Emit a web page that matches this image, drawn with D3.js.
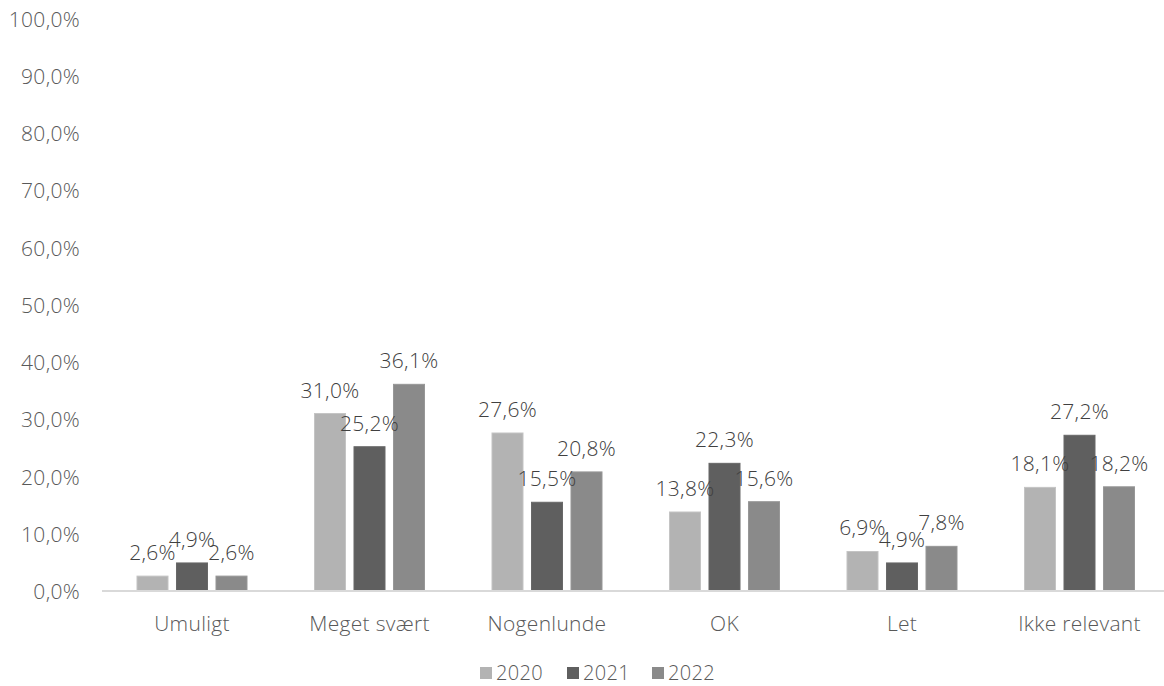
<!DOCTYPE html>
<html><head><meta charset="utf-8">
<script src="https://cdn.jsdelivr.net/npm/d3@7"></script>
<style>
body{margin:0;background:#fff;}
text{font-family:"Open Sans",sans-serif;font-weight:300;}
</style></head>
<body><svg id="c" width="1164" height="686"></svg>
<script>
const categories = ["Umuligt","Meget svært","Nogenlunde","OK","Let","Ikke relevant"];
const series = ["2020","2021","2022"];
const values2020 = [2.6,31.0,27.6,13.8,6.9,18.1];
const values2021 = [4.9,25.2,15.5,22.3,4.9,27.2];
const values2022 = [2.6,36.1,20.8,15.6,7.8,18.2];
const yTicks = [0,10,20,30,40,50,60,70,80,90,100];
const colors = ["#b3b3b3","#5f5f5f","#8a8a8a"];
const allValues = [values2020, values2021, values2022];

const FS = 21;
const svg = d3.select("#c");
const x0 = d3.scaleBand().domain(categories).range([102, 1167]).padding(0);
const x1 = d3.scaleBand().domain(series).range([35, 145]).paddingInner(0.215).paddingOuter(0);
const y = d3.scaleLinear().domain([0,100]).range([591, 18.5]);
const fmt = v => d3.format(".1f")(v).replace(".", ",") + "%";

// y tick labels
svg.append("g").selectAll("text").data(yTicks).join("text")
  .attr("x", 80).attr("y", d => y(d)).attr("text-anchor","end")
  .attr("dominant-baseline","central").attr("font-size", FS).attr("letter-spacing","0.3")
  .attr("fill","#595959").text(d => fmt(d));

// bars
const g = svg.append("g");
series.forEach((s, si) => {
  const vals = allValues[si];
  g.selectAll(".b"+si).data(categories).join("rect")
    .attr("x", (c) => x0(c) + x1(s))
    .attr("y", (c,i) => y(vals[i]))
    .attr("width", x1.bandwidth())
    .attr("height", (c,i) => y(0) - y(vals[i]))
    .attr("fill", colors[si])
    .attr("stroke", d3.color(colors[si]).brighter(0.25))
    .attr("stroke-width", 1);
});

// axis line
svg.append("line").attr("x1", 102).attr("x2", 1164).attr("y1", 591).attr("y2", 591)
  .attr("stroke", "#d9d9d9").attr("stroke-width", 2);

// data labels
series.forEach((s, si) => {
  const vals = allValues[si];
  svg.append("g").selectAll("text").data(categories).join("text")
    .attr("x", c => x0(c) + x1(s) + x1.bandwidth()/2)
    .attr("y", (c,i) => y(vals[i]) - 24)
    .attr("text-anchor","middle").attr("dominant-baseline","central")
    .attr("font-size", FS).attr("letter-spacing","0.3").attr("fill","#404040")
    .text((c,i) => fmt(vals[i]));
});

// x labels
svg.append("g").selectAll("text").data(categories).join("text")
  .attr("x", c => x0(c) + 90).attr("y", 623)
  .attr("text-anchor","middle").attr("dominant-baseline","central")
  .attr("font-size", FS).attr("letter-spacing","0.3").attr("fill","#595959").text(c => c);

// legend
const legX = [480, 567, 652];
const leg = svg.append("g");
series.forEach((s, si) => {
  leg.append("rect").attr("x", legX[si]).attr("y", 667).attr("width", 12).attr("height", 12).attr("fill", colors[si]);
  leg.append("text").attr("x", legX[si] + 16).attr("y", 672).attr("dominant-baseline","central")
    .attr("font-size", 20).attr("letter-spacing","0.3").attr("fill","#595959").text(s);
});
</script></body></html>
